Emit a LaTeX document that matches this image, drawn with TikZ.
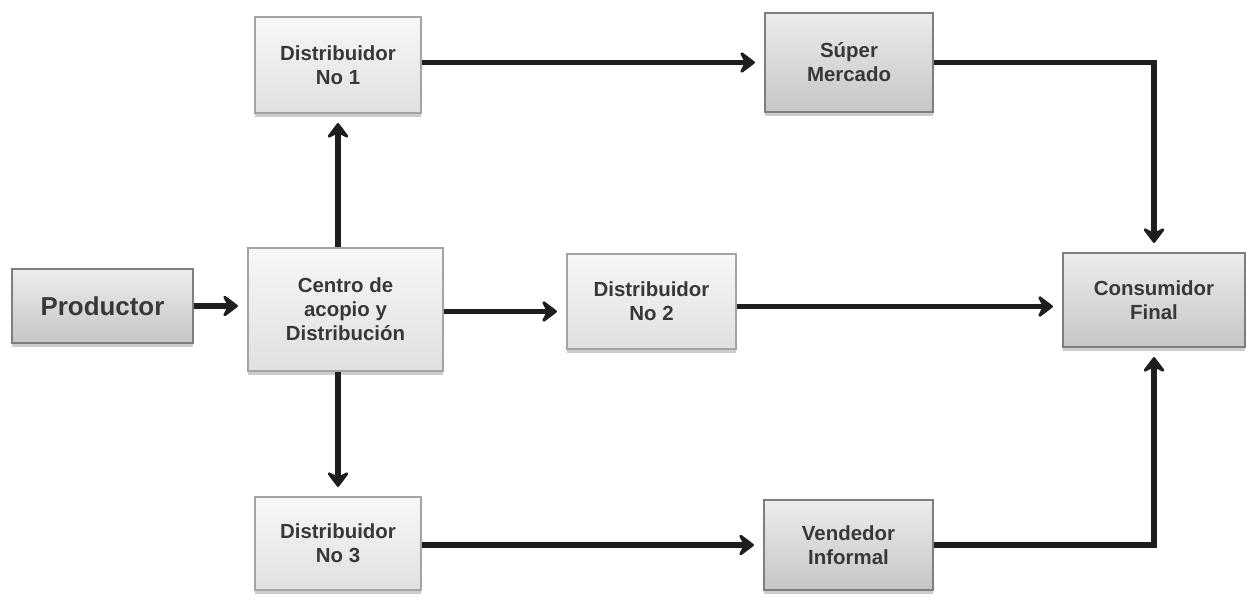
\documentclass[tikz,border=0pt]{standalone}
\usepackage{fontspec}
\setmainfont{Liberation Sans}
\usetikzlibrary{arrows.meta,shadows}
\definecolor{txt}{HTML}{383838}
\definecolor{bordD}{HTML}{7E7E80}
\definecolor{bordL}{HTML}{A4A4A6}
\definecolor{topD}{HTML}{ECECEE}
\definecolor{botD}{HTML}{C6C6C8}
\definecolor{topL}{HTML}{F7F7F7}
\definecolor{botL}{HTML}{E0E0E2}
\definecolor{arr}{HTML}{1E1E1E}
\begin{document}
\begin{tikzpicture}[x=1bp,y=-1bp,
  basebox/.style={line width=2.2bp, text=txt, align=center, inner sep=0pt,
    font=\bfseries\fontsize{20.5}{24}\selectfont,
    drop shadow={shadow xshift=0bp, shadow yshift=-4bp, fill=black!20, opacity=1}},
  darkbox/.style={basebox, draw=bordD, top color=topD, bottom color=botD},
  lightbox/.style={basebox, draw=bordL, top color=topL, bottom color=botL},
  conn/.style={draw=arr, line width=5.5bp, shorten >=9bp,
    -{Stealth[length=18bp,width=27bp,inset=7bp,round]}}
]
\useasboundingbox (0,0) rectangle (1247,601);

\node[darkbox, minimum width=181bp, minimum height=74bp,
  font=\bfseries\fontsize{26}{30}\selectfont] (prod) at (102.5,306) {Productor};
\node[lightbox, minimum width=195bp, minimum height=123bp] (centro) at (345.5,309.5)
  {Centro de\\acopio y\\Distribución};
\node[lightbox, minimum width=166bp, minimum height=96bp] (d1) at (338,65) {Distribuidor\\No 1};
\node[darkbox, minimum width=168bp, minimum height=99bp] (sup) at (849,62.5) {Súper\\Mercado};
\node[lightbox, minimum width=169bp, minimum height=95bp] (d2) at (651.5,301.5) {Distribuidor\\No 2};
\node[darkbox, minimum width=182bp, minimum height=94bp] (cons) at (1154,300) {Consumidor\\Final};
\node[lightbox, minimum width=166bp, minimum height=93bp] (d3) at (338,543.5) {Distribuidor\\No 3};
\node[darkbox, minimum width=169bp, minimum height=90bp] (vend) at (848.5,545) {Vendedor\\Informal};

\draw[conn] (prod.east) -- (prod.east -| centro.west);
\draw[conn] (d1 |- centro.north) -- (d1.south);
\draw[conn] (d3 |- centro.south) -- (d3.north);
\draw[conn] ([yshift=-2bp]centro.east) -- ([yshift=-2bp]centro.east -| d2.west);
\draw[conn] (sup.west -| d1.east) -- (sup.west);
\draw[conn] (sup.east) -| (cons.north);
\draw[conn] ([yshift=-5bp]d2.east) -- ([yshift=-5bp]d2.east -| cons.west);
\draw[conn] (vend.west -| d3.east) -- (vend.west);
\draw[conn] (vend.east) -| (cons.south);
\end{tikzpicture}
\end{document}
